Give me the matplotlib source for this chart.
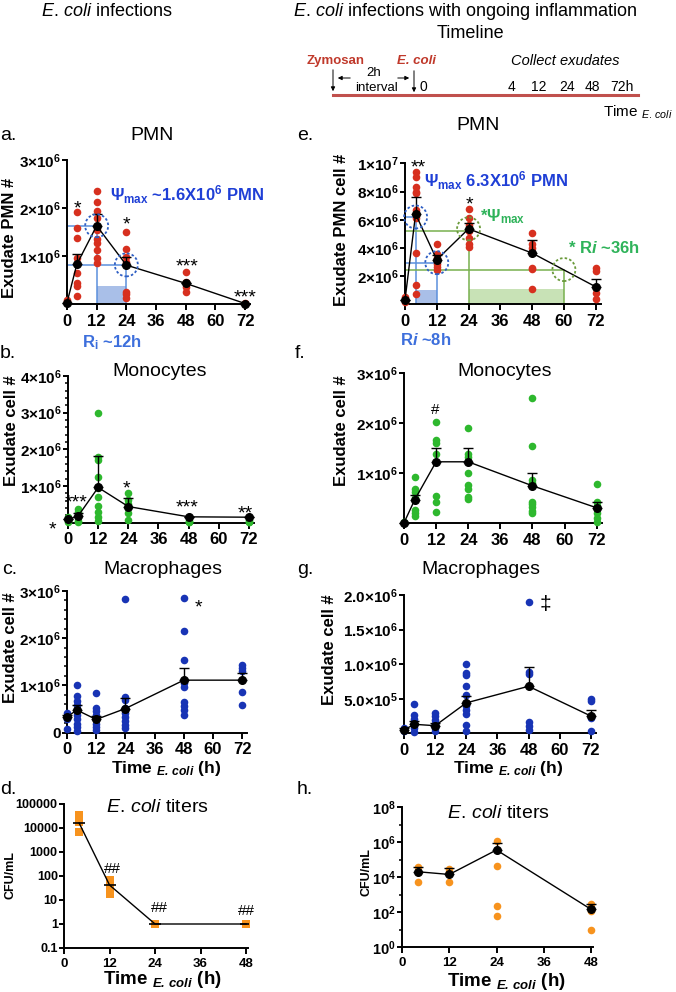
import matplotlib
matplotlib.use('Agg')
import matplotlib.pyplot as plt
from matplotlib import transforms
from matplotlib.patches import Circle
from matplotlib.ticker import FixedLocator, NullFormatter

plt.rcParams['font.family'] = ['Liberation Sans', 'DejaVu Sans']
plt.rcParams['mathtext.fontset'] = 'custom'
plt.rcParams['mathtext.rm'] = 'Liberation Sans'
plt.rcParams['mathtext.it'] = 'Liberation Sans:italic'
plt.rcParams['mathtext.bf'] = 'Liberation Sans:bold'
plt.rcParams['mathtext.bfit'] = 'Liberation Sans:italic:bold'
plt.rcParams['mathtext.default'] = 'regular'

# ---------------- data (cell counts in units of 10^6) ----------------
times = [0, 4, 12, 24, 48, 72]
titer_times = [4, 12, 24, 48]
hour_ticks = [0, 12, 24, 36, 48, 60, 72]
titer_ticks = [0, 12, 24, 36, 48]

# a. PMN, E. coli infection
pmn_a = [[0.08, 0.04, 0.02],
         [1.91, 1.58, 1.37, 0.95, 0.64, 0.43, 0.38, 0.17],
         [2.36, 2.13, 1.94, 1.80, 1.55, 1.36, 1.28, 1.12, 0.95, 0.85],
         [1.50, 1.14, 0.98, 0.88, 0.26, 0.20, 0.12],
         [0.67, 0.45, 0.35, 0.25],
         [0.03, 0.01]]
pmn_a_mean = [0.03, 0.83, 1.63, 0.81, 0.43, 0.01]
pmn_a_sem = [0.0, 0.22, 0.24, 0.17, 0.0, 0.0]
a_tmax, a_t50, a_box = 12, 24, 0.375

# e. PMN, E. coli during ongoing inflammation
pmn_e = [[0.5, 0.3, 0.15],
         [9.4, 9.05, 8.3, 8.0, 7.9, 6.7, 6.1, 3.65, 1.35, 0.75],
         [4.25, 3.55, 3.3, 2.9, 2.65, 2.45],
         [6.8, 6.15, 5.6, 5.2, 4.7, 4.3, 4.05],
         [5.05, 4.25, 4.0, 2.55, 2.5, 1.12],
         [2.55, 2.35, 0.8, 0.4]]
pmn_e_mean = [0.31, 6.41, 3.17, 5.36, 3.64, 1.25]
pmn_e_sem = [0.0, 1.18, 0.30, 0.40, 0.94, 0.52]
e_psi1, e_half1, e_box1 = 6.2, 2.96, 1.0
e_psi2, e_half2, e_box2 = 5.19, 2.47, 1.08
e_t1, e_t1h, e_t2, e_t2h = 4, 12, 24, 60

# b. / f. monocytes
mono_b = [[0.15, 0.08, 0.03],
          [0.38, 0.30, 0.15, 0.05, 0.02],
          [3.0, 1.8, 1.72, 1.25, 0.95, 0.7, 0.45, 0.28, 0.15, 0.05],
          [0.82, 0.62, 0.5, 0.42, 0.27, 0.08],
          [0.05, 0.02, 0.01],
          [0.08, 0.03, 0.01]]
mono_b_mean = [0.09, 0.18, 0.96, 0.44, 0.16, 0.15]
mono_b_sem = [0.0, 0.09, 0.87, 0.22, 0.0, 0.0]

mono_f = [[0.02, 0.01],
          [0.93, 0.68, 0.62, 0.5, 0.27, 0.2, 0.14],
          [2.02, 1.67, 1.6, 1.38, 0.55, 0.42, 0.22],
          [1.9, 1.38, 1.32, 1.0, 0.76, 0.68, 0.52, 0.48],
          [2.5, 1.55, 0.87, 0.8, 0.43, 0.38, 0.32, 0.25, 0.2],
          [0.78, 0.43, 0.35, 0.2, 0.1, 0.03]]
mono_f_mean = [0.01, 0.47, 1.23, 1.23, 0.75, 0.31]
mono_f_sem = [0.0, 0.10, 0.27, 0.28, 0.25, 0.12]

# c. / g. macrophages
mac_c = [[0.42, 0.36, 0.3, 0.08],
         [1.0, 0.78, 0.68, 0.58, 0.47, 0.37, 0.28, 0.18, 0.11, 0.04],
         [0.84, 0.52, 0.45, 0.37, 0.28, 0.19, 0.12, 0.05],
         [2.82, 0.76, 0.7, 0.52, 0.42, 0.33, 0.25, 0.17, 0.1],
         [2.84, 2.15, 1.53, 1.05, 0.97, 0.65, 0.56, 0.48, 0.37],
         [1.42, 1.36, 1.3, 0.85, 0.58]]
mac_c_mean = [0.33, 0.48, 0.28, 0.51, 1.11, 1.11]
mac_c_sem = [0.05, 0.10, 0.08, 0.22, 0.25, 0.16]

mac_g = [[0.08, 0.03],
         [0.42, 0.27, 0.2, 0.13, 0.07, 0.02],
         [0.3, 0.25, 0.19, 0.13, 0.08, 0.03],
         [1.0, 0.87, 0.84, 0.68, 0.55, 0.4, 0.34, 0.28, 0.12, 0.04],
         [1.9, 0.89, 0.86, 0.16, 0.11, 0.05],
         [0.5, 0.46, 0.22, 0.03]]
mac_g_mean = [0.05, 0.13, 0.11, 0.44, 0.68, 0.25]
mac_g_sem = [0.02, 0.05, 0.04, 0.10, 0.28, 0.09]

# d. / h. E. coli titers (CFU/mL)
titer_d = [[35000, 30000, 24000, 18000, 7000],
           [70, 50, 35, 25, 18],
           [1, 1, 1, 1],
           [1, 1, 1]]
titer_d_mean = [16000, 42, 1, 1]
titer_h = [[3.8e4, 2.0e4, 5.5e3],
           [3.0e4, 2.0e4, 5.5e3],
           [1.2e6, 4.2e4, 230, 60],
           [280, 120, 10]]
titer_h_mean = [2.0e4, 1.4e4, 3.5e5, 142]
titer_h_sem = [1.9e4, 1.8e4, 5.5e5, 133]

# tick labels
a_yt, a_ytl = [1, 2, 3], ['1×10$^{6}$', '2×10$^{6}$', '3×10$^{6}$']
e_yt = [2, 4, 6, 8, 10]
e_ytl = ['2×10$^{6}$', '4×10$^{6}$', '6×10$^{6}$', '8×10$^{6}$', '1×10$^{7}$']
b_yt = [1, 2, 3, 4]
b_ytl = ['1×10$^{6}$', '2×10$^{6}$', '3×10$^{6}$', '4×10$^{6}$']
f_yt, f_ytl = [1, 2, 3], ['1×10$^{6}$', '2×10$^{6}$', '3×10$^{6}$']
c_yt, c_ytl = [0, 1, 2, 3], ['0', '1×10$^{6}$', '2×10$^{6}$', '3×10$^{6}$']
g_yt = [0.5, 1.0, 1.5, 2.0]
g_ytl = ['5.0×10$^{5}$', '1.0×10$^{6}$', '1.5×10$^{6}$', '2.0×10$^{6}$']
d_yt = [0.1, 1, 10, 100, 1000, 10000, 100000]
d_ytl = ['0.1', '1', '10', '100', '1000', '10000', '100000']
h_yt = [1, 1e2, 1e4, 1e6, 1e8]
h_ytl = ['10$^{0}$', '10$^{2}$', '10$^{4}$', '10$^{6}$', '10$^{8}$']

RED = '#d7301f'
GREEN = '#2eb82e'
BLUE = '#1834b5'
ORANGE = '#f7931e'
TBLUE = '#1f3fd6'
LBLUE = '#5b8fdc'
FBLUE = '#a9bfe8'
TGREEN = '#2fb35a'
LGREEN = '#78b04e'
FGREEN = '#c8e2b6'

W, H = 676, 992
fig = plt.figure(figsize=(W / 100, H / 100), dpi=100)


def box(left, top, right, bottom):
    return [left / W, 1 - bottom / H, (right - left) / W, (bottom - top) / H]


def style(ax, xmax, xt, ylim, yt, ytl, xfs=12, yfs=11, log=False):
    for s in ['top', 'right']:
        ax.spines[s].set_visible(False)
    for s in ['left', 'bottom']:
        ax.spines[s].set_linewidth(1.4)
    ax.set_facecolor('none')
    if log:
        ax.set_yscale('log')
    ax.set_xlim(0, xmax)
    ax.set_ylim(*ylim)
    ax.set_xticks(xt)
    ax.set_xticklabels([str(v) for v in xt], fontweight='bold', fontsize=xfs)
    ax.set_yticks(yt)
    ax.set_yticklabels(ytl, fontweight='bold', fontsize=yfs)
    ax.tick_params(axis='x', width=1.4, length=4, pad=3)
    ax.tick_params(axis='y', width=1.4, length=3.5, pad=1)


def dots(ax, groups, color, tvals, marker='o', s=30):
    for t, grp in zip(tvals, groups):
        ax.scatter([t] * len(grp), grp, s=s, color=color, marker=marker,
                   zorder=3, clip_on=False, linewidths=0)


def means(ax, tvals, m, sem):
    ax.errorbar(tvals, m, yerr=[[0] * len(sem), sem], fmt='none', ecolor='k',
                elinewidth=1, capsize=3.5, capthick=1, zorder=4, clip_on=False)
    ax.plot(tvals, m, '-o', color='k', lw=1, ms=5.5, zorder=5, clip_on=False)


def ring(ax, x, y, color, r=0.115):
    tr = fig.dpi_scale_trans + transforms.ScaledTranslation(x, y, ax.transData)
    ax.add_patch(Circle((0, 0), r, transform=tr, fill=False, ls=(0, (1.4, 1.2)),
                        lw=1.3, ec=color, clip_on=False, zorder=6))


# overlay in pixel coordinates for all free text
ov = fig.add_axes([0, 0, 1, 1])
ov.set_xlim(0, W)
ov.set_ylim(H, 0)
ov.axis('off')
ov.set_zorder(10)


def T(x, y, s, fs=14, ha='center', va='center', **kw):
    ov.text(x, y, s, fontsize=fs, ha=ha, va=va, **kw)


def star(x, y, s, fs=14, k=0.58, **kw):
    # x, y: visual centre of the glyphs
    ov.text(x, y + k * fs * 1.389, s, fontsize=fs, ha='center', va='baseline', **kw)


# ---------------- a. ----------------
ax = fig.add_axes(box(67, 160, 250, 304))
style(ax, 74, hour_ticks, (0, 3), a_yt, a_ytl)
ax.fill_between([a_tmax, a_t50], 0, a_box, color=FBLUE, lw=0, zorder=1)
ax.plot([0, a_tmax, a_tmax], [pmn_a_mean[2], pmn_a_mean[2], 0], color=LBLUE, lw=1.1, zorder=2)
ax.plot([0, a_t50, a_t50], [pmn_a_mean[2] / 2, pmn_a_mean[2] / 2, 0], color=LBLUE, lw=1.1, zorder=2)
dots(ax, pmn_a, RED, times)
means(ax, times, pmn_a_mean, pmn_a_sem)
ring(ax, a_tmax, pmn_a_mean[2], '#2f5fc4')
ring(ax, a_t50, pmn_a_mean[2] / 2, '#2f5fc4')

# ---------------- e. ----------------
ax = fig.add_axes(box(405, 163.4, 601, 304.4))
style(ax, 74, hour_ticks, (0, 10), e_yt, e_ytl)
ax.fill_between([e_t1, e_t1h], 0, e_box1, color=FBLUE, lw=0, zorder=1)
ax.fill_between([e_t2, e_t2h], 0, e_box2, color=FGREEN, lw=0, zorder=1)
ax.plot([0, e_t1, e_t1], [e_psi1, e_psi1, 0], color=LBLUE, lw=1.1, zorder=2)
ax.plot([0, e_t1h, e_t1h], [e_half1, e_half1, 0], color=LBLUE, lw=1.1, zorder=2)
ax.plot([0, e_t2, e_t2], [e_psi2, e_psi2, 0], color=LGREEN, lw=1.1, zorder=2)
ax.plot([0, e_t2h, e_t2h], [e_half2, e_half2, 0], color=LGREEN, lw=1.1, zorder=2)
dots(ax, pmn_e, RED, times)
means(ax, times, pmn_e_mean, pmn_e_sem)
ring(ax, e_t1, e_psi1, '#2f5fc4')
ring(ax, e_t1h, e_half1, '#2f5fc4')
ring(ax, e_t2, pmn_e_mean[3], '#6a9a3a')
ring(ax, e_t2h, e_half2, '#6a9a3a')

# ---------------- b. ----------------
ax = fig.add_axes(box(68, 376, 254, 522.7))
style(ax, 74, hour_ticks, (0, 4), b_yt, b_ytl)
ax.yaxis.set_minor_locator(FixedLocator([v / 5 for v in range(1, 20) if v % 5]))
ax.tick_params(axis='y', which='minor', width=1.1, length=2)
dots(ax, mono_b, GREEN, times)
means(ax, times, mono_b_mean, mono_b_sem)

# ---------------- f. ----------------
ax = fig.add_axes(box(404, 373.3, 602, 523.3))
style(ax, 74, hour_ticks, (0, 3), f_yt, f_ytl)
dots(ax, mono_f, GREEN, times)
means(ax, times, mono_f_mean, mono_f_sem)

# ---------------- c. ----------------
ax = fig.add_axes(box(67, 590.7, 247, 732.7))
style(ax, 74, hour_ticks, (0, 3), c_yt, c_ytl)
ax.yaxis.set_minor_locator(FixedLocator([v / 5 for v in range(1, 15) if v % 5]))
ax.tick_params(axis='y', which='minor', width=1.1, length=2)
dots(ax, mac_c, BLUE, times)
means(ax, times, mac_c_mean, mac_c_sem)

# ---------------- g. ----------------
ax = fig.add_axes(box(404, 595, 596, 733.3))
style(ax, 74, hour_ticks, (0, 2), g_yt, g_ytl)
dots(ax, mac_g, BLUE, times)
means(ax, times, mac_g_mean, mac_g_sem)

# ---------------- d. ----------------
ax = fig.add_axes(box(64, 804, 248, 948))
style(ax, 48.5, titer_ticks, (0.1, 1e5), d_yt, d_ytl, xfs=9.5, yfs=9, log=True)
ax.yaxis.set_minor_locator(FixedLocator([]))
ax.yaxis.set_minor_formatter(NullFormatter())
dots(ax, titer_d, ORANGE, titer_times, marker='s', s=32)
ax.plot(titer_times, titer_d_mean, '-', color='k', lw=1, zorder=5)
ax.plot(titer_times, titer_d_mean, '_', color='k', ms=8, mew=1.2, zorder=5)

# ---------------- h. ----------------
ax = fig.add_axes(box(402, 807, 593, 947))
style(ax, 48.5, titer_ticks, (1, 1e8), h_yt, h_ytl, xfs=9.5, yfs=10.5, log=True)
ax.yaxis.set_minor_locator(FixedLocator([1e1, 1e3, 1e5, 1e7]))
ax.yaxis.set_minor_formatter(NullFormatter())
ax.tick_params(axis='y', which='minor', width=1.1, length=2)
dots(ax, titer_h, ORANGE, titer_times)
means(ax, titer_times, titer_h_mean, titer_h_sem)

# ---------------- headers & timeline ----------------
ECOLI = r'$\mathit{E.\,coli}$'
T(107, 11, ECOLI + ' infections', fs=13)
T(465, 11, ECOLI + ' infections with ongoing inflammation', fs=13)
T(470, 34, 'Timeline', fs=13)
ov.plot([333, 638], [94.5, 94.5], color='#c0504d', lw=2.2)
T(336, 61, 'Zymosan', fs=9.5, color='#c0392b', fontweight='bold')
T(416, 61, 'E. coli', fs=9.5, color='#c0392b', fontweight='bold', style='italic')
T(565, 61, 'Collect exudates', fs=10.5, style='italic')
ov.annotate('', xy=(333, 94), xytext=(333, 67),
            arrowprops=dict(arrowstyle='-|>', color='k', lw=0.7, mutation_scale=6))
ov.annotate('', xy=(414, 95), xytext=(414, 68),
            arrowprops=dict(arrowstyle='-|>', color='k', lw=0.7, mutation_scale=6))
ov.annotate('', xy=(335, 78), xytext=(353, 78),
            arrowprops=dict(arrowstyle='-|>', color='k', lw=0.7, mutation_scale=6))
ov.annotate('', xy=(412, 78), xytext=(395, 78),
            arrowprops=dict(arrowstyle='-|>', color='k', lw=0.7, mutation_scale=6))
T(374, 73, '2h', fs=9.5)
T(377, 88, 'interval', fs=9.5)
T(420, 87, '0', fs=10, ha='left')
for lab, xx in zip(['4', '12', '24', '48', '72h'], [511, 539, 567, 592, 622]):
    T(xx, 87, lab, fs=10)
T(603, 112, r'Time $_{\mathit{E.\,coli}}$', fs=11, ha='left')

# ---------------- panel letters & titles ----------------
T(0, 135, 'a.', ha='left')
T(152, 135, 'PMN')
T(297, 135, 'e.', ha='left')
T(478, 125, 'PMN')
T(0, 354, 'b.', ha='left')
T(160, 372, 'Monocytes')
T(295, 354, 'f.', ha='left')
T(505, 371, 'Monocytes')
T(2, 570, 'c.', ha='left')
T(163, 569, 'Macrophages')
T(297, 570, 'g.', ha='left')
T(481, 569, 'Macrophages')
T(0, 790, 'd.', ha='left')
T(157, 808, ECOLI + ' titers')
T(297, 790, 'h.', ha='left')
T(498, 813, ECOLI + ' titers')

# ---------------- axis labels ----------------
yl = dict(rotation=90, fontweight='bold')
T(10, 238, 'Exudate PMN #', fs=12, **yl)
T(342, 230, 'Exudate PMN cell #', fs=12, **yl)
T(12, 431, 'Exudate cell #', fs=12, **yl)
T(342, 431, 'Exudate cell #', fs=12, **yl)
T(11, 648, 'Exudate cell #', fs=12, **yl)
T(330, 650, 'Exudate cell #', fs=12, **yl)
T(11, 875, 'CFU/mL', fs=9, **yl)
T(367, 872, 'CFU/mL', fs=9, **yl)
xl = r'Time $_{\mathbfit{E.\,coli}}$ (h)'
T(166, 768, xl, fs=12.5, fontweight='bold')
T(508, 769, xl, fs=12.5, fontweight='bold')
T(162, 979, xl, fs=13.5, fontweight='bold')
T(506, 981, xl, fs=13.5, fontweight='bold')

# ---------------- annotations ----------------
T(110, 195, 'Ψ$_{max}$ ~1.6X10$^{6}$ PMN', fs=12, ha='left', color=TBLUE, fontweight='bold')
T(82, 343, 'R$_{i}$ ~12h', fs=12, ha='left', color='#3d6fdc', fontweight='bold')
T(424, 181, 'Ψ$_{max}$ 6.3X10$^{6}$ PMN', fs=12, ha='left', color=TBLUE, fontweight='bold')
T(480, 217, '*Ψ$_{max}$', fs=12, ha='left', color=TGREEN, fontweight='bold')
T(568, 248, r'* R$\mathbfit{i}$ ~36h', fs=12, ha='left', color=TGREEN, fontweight='bold')
T(400, 340, r'R$\mathbfit{i}$ ~8h', fs=12, ha='left', color='#3d6fdc', fontweight='bold')

star(77, 202, '*')
star(126, 218, '*')
star(187, 260, '***')
star(245, 291, '***')
star(418, 161, '**')
star(469, 198, '*')
star(52, 523, '*')
star(76, 496, '***')
star(126, 482, '*')
star(187, 501, '***')
star(245, 507, '**')
star(435, 408, '#', fs=11, k=0.36)
star(198, 601, '*')
star(545, 602, '‡', fs=15, k=0.36)
star(112, 867, '##', fs=11, k=0.36)
star(159, 906, '##', fs=11, k=0.36)
star(246, 909, '##', fs=11, k=0.36)

fig.savefig('out.png', dpi=100)
